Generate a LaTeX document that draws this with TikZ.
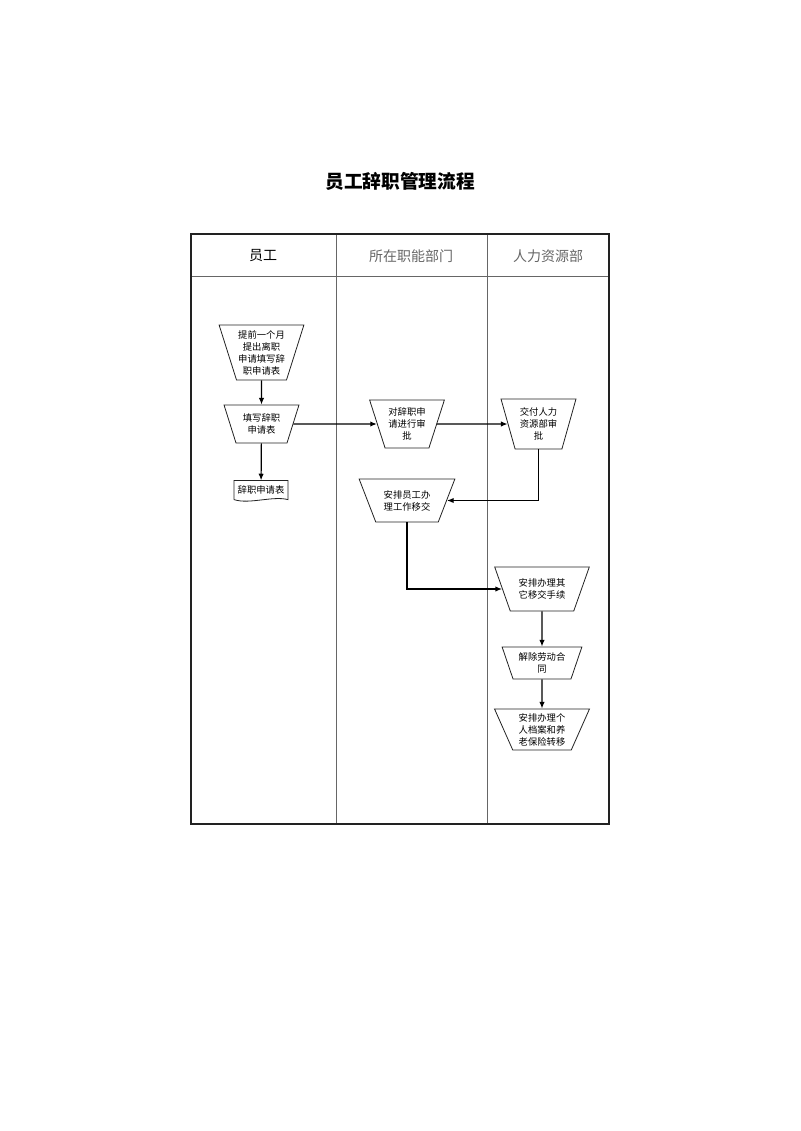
\documentclass[tikz,border=0pt]{standalone}
\usepackage{fontspec}
\setmainfont{Noto Sans CJK SC}
\usetikzlibrary{arrows.meta,shapes.geometric}
\definecolor{ink}{HTML}{222222}
\definecolor{rule}{HTML}{666666}
\tikzset{
  manop/.style n args={3}{trapezium, shape border rotate=180, trapezium stretches=true,
    trapezium angle=#3, minimum width=#1, minimum height=#2, draw=ink, line width=0.6pt,
    inner sep=0pt, align=center, font=\fontsize{7}{9}\selectfont},
  flow/.style={->,black,line width=0.9pt},
}

\begin{document}
\begin{tikzpicture}[>={Latex[length=5pt,width=4pt]},x=0.75pt,y=-0.75pt]
 \useasboundingbox (0,0) rectangle (800,1131);
 \node[font=\fontsize{14}{16}\selectfont\bfseries] (title) at (400,181) {员工辞职管理流程};
 % lanes
 \draw[rule,line width=0.5pt] (191,276.5) -- (609,276.5);
 \draw[rule,line width=0.6pt] (336,234) -- (336,824) (487,234) -- (487,824);
 \draw[ink,line width=1.3pt] (191,234) rectangle (609,824);
 \foreach \x/\t/\c [count=\i] in {263/员工/black,411/所在职能部门/rule,548/人力资源部/rule}
   \node[font=\fontsize{10.5}{12}\selectfont,text=\c] (hd\i) at (\x,256) {\t};

 \node[manop={63.75pt}{41.25pt}{70}] (notice) at (261.5,352.5) {提前一个月\\提出离职\\申请填写辞\\职申请表};
 \node[manop={56.25pt}{28.5pt}{67}] (fillform) at (261.5,424) {填写辞职\\申请表};
 \node[inner sep=0pt,minimum width=40pt,minimum height=14pt,font=\fontsize{7}{9}\selectfont] (form) at (261,490) {辞职申请表};
 \draw[ink,line width=0.6pt] (form.south west) -- (form.north west) -- (form.north east) -- (form.south east)
   .. controls +(-15,-4) and +(15,5) .. (form.south west);
 \node[manop={56.25pt}{36pt}{68}] (review) at (407,424) {对辞职申\\请进行审\\批};
 \node[manop={56.25pt}{37.5pt}{71}] (hrcheck) at (538.5,424) {交付人力\\资源部审\\批};
 \node[manop={72pt}{32.25pt}{59}] (handover) at (407,500.5) {安排员工办\\理工作移交};
 \node[manop={71.25pt}{33pt}{61}] (others) at (542,589) {安排办理其\\它移交手续};
 \node[manop={60pt}{24pt}{67}] (contract) at (542,663) {解除劳动合\\同};
 \node[manop={71.25pt}{30.75pt}{66}] (archive) at (542,729.5) {安排办理个\\人档案和养\\老保险转移};

 \draw[flow] (notice) -- (fillform);
 \draw[flow] (fillform) -- (form);
 \draw[flow] (fillform) -- (review);
 \draw[flow] (review) -- (hrcheck);
 \draw[flow] (hrcheck) |- (handover);
 \draw[flow] (handover) |- (others);
 \draw[flow] (others) -- (contract);
 \draw[flow] (contract) -- (archive);
\end{tikzpicture}
\end{document}
